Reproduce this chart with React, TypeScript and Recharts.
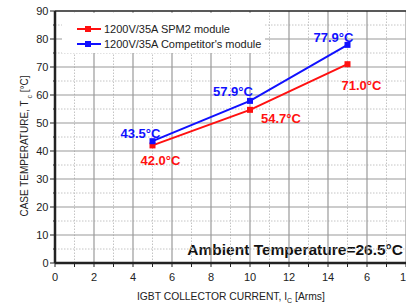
import React from 'react';
import { LineChart, Line, XAxis, YAxis, ReferenceLine, LabelList } from 'recharts';

const CURRENT_ARMS = [5, 10, 15];
const SPM2_TEMPS = [42.0, 54.7, 71.0];
const COMPETITOR_TEMPS = [43.5, 57.9, 77.9];

const X_TICKS = [0, 1, 2, 3, 4, 5, 6, 7, 8, 9, 10, 11, 12, 13, 14, 15, 16, 17, 18];
// labels as they appear in the picture (the "16" reads as "6")
const X_TICK_LABELS: Record<number, string> = {
  0: '0', 2: '2', 4: '4', 6: '6', 8: '8', 10: '10', 12: '12', 14: '14', 16: '6', 18: '18',
};
const Y_TICKS = [0, 5, 10, 15, 20, 25, 30, 35, 40, 45, 50, 55, 60, 65, 70, 75, 80, 85, 90];

const MAJOR_X = [2, 4, 6, 8, 10, 12, 14, 16, 18];
const MINOR_X = [1, 3, 5, 7, 9, 11, 13, 15, 17];
const MAJOR_Y = [10, 20, 30, 40, 50, 60, 70, 80];
const MINOR_Y = [5, 15, 25, 35, 45, 55, 65, 75, 85];

const SERIES_NAMES = ['1200V/35A SPM2 module', "1200V/35A Competitor's module"];

const data = CURRENT_ARMS.map((x, i) => ({
  x,
  spm2: SPM2_TEMPS[i],
  comp: COMPETITOR_TEMPS[i],
}));

const FONT = '"Liberation Sans", Arial, sans-serif';
const RED = '#ff1010';
const BLUE = '#1010ff';

// where each value label sits relative to its point (center of text)
const RED_LABEL_OFFSETS = [[8, 15], [31, 9], [14, 21]];
const BLUE_LABEL_OFFSETS = [[-12, -8], [-17, -9], [-14, -7]];

const squareDot = (color: string) => (props: any) => {
  const { cx, cy, index } = props;
  return <rect key={`d-${index}`} x={cx - 3} y={cy - 3} width={6} height={6} fill={color} />;
};

const valueLabel = (color: string, offsets: number[][]) => (props: any) => {
  const { x, y, value, index } = props;
  const [dx, dy] = offsets[index];
  return (
    <text
      x={x + dx}
      y={y + dy + 4.5}
      textAnchor="middle"
      fill={color}
      fontFamily={FONT}
      fontWeight="bold"
      fontSize={13}
    >
      {Number(value).toFixed(1)}°C
    </text>
  );
};

const XTick = (props: any) => {
  const { x, y, payload } = props;
  const label = X_TICK_LABELS[payload.value];
  return (
    <g>
      <line x1={x} y1={y} x2={x} y2={y + 4} stroke="#222" />
      {label !== undefined && (
        <text x={x} y={y + 18} textAnchor="middle" fill="#222" fontSize={11} fontFamily={FONT}>
          {label}
        </text>
      )}
    </g>
  );
};

const YTick = (props: any) => {
  const { x, y, payload } = props;
  const major = payload.value % 10 === 0;
  return (
    <g>
      <line x1={x - (major ? 5 : 2)} y1={y} x2={x} y2={y} stroke="#222" />
      {major && (
        <text x={x - 6.5} y={y + 4} textAnchor="end" fill="#222" fontSize={11} fontFamily={FONT}>
          {payload.value}
        </text>
      )}
    </g>
  );
};

const LegendBox = () => (
  <svg width={203} height={40} style={{ display: 'block' }}>
    {[RED, BLUE].map((c, i) => (
      <g key={c}>
        <line x1={15} x2={39} y1={16 + i * 15} y2={16 + i * 15} stroke={c} strokeWidth={2} />
        <rect x={23} y={13 + i * 15} width={6} height={6} fill={c} />
        <text x={42} y={20 + i * 15} fontSize={11} fontFamily={FONT} fill="#222">
          {SERIES_NAMES[i]}
        </text>
      </g>
    ))}
  </svg>
);

export default function App() {
  return (
    <div style={{ position: 'absolute', left: 0, top: 0, width: 406, height: 306, overflow: 'hidden', background: '#fff' }}>
      <LineChart
        width={420}
        height={306}
        data={data}
        margin={{ top: 11, right: 14, left: 0, bottom: 0 }}
        style={{ fontFamily: FONT }}
      >
        {MINOR_X.map((v) => (
          <ReferenceLine key={`mx${v}`} x={v} stroke="#c4c4c4" strokeDasharray="1.5 1.5" />
        ))}
        {MINOR_Y.map((v) => (
          <ReferenceLine key={`my${v}`} y={v} stroke="#c4c4c4" strokeDasharray="1.5 1.5" />
        ))}
        {MAJOR_X.map((v) => (
          <ReferenceLine key={`Mx${v}`} x={v} stroke="#9a9a9a" strokeWidth={1.2} />
        ))}
        {MAJOR_Y.map((v) => (
          <ReferenceLine key={`My${v}`} y={v} stroke="#9a9a9a" strokeWidth={1.2} />
        ))}
        <ReferenceLine y={90} stroke="#222" strokeWidth={1.5} />
        <XAxis
          dataKey="x"
          type="number"
          domain={[0, 18]}
          ticks={X_TICKS}
          interval={0}
          height={43}
          tickSize={0}
          tickMargin={0}
          tickLine={false}
          tick={<XTick />}
          axisLine={{ stroke: '#222', strokeWidth: 2.5 }}
          allowDataOverflow
          label={{
            content: () => (
              <text x={137} y={300} fill="#222" fontSize={10.3} fontFamily={FONT}>
                IGBT COLLECTOR CURRENT, I
                <tspan fontSize={7} dy={3}>C</tspan>
                <tspan dy={-3}>  [Arms]</tspan>
              </text>
            ),
          }}
        />
        <YAxis
          type="number"
          domain={[0, 90]}
          ticks={Y_TICKS}
          interval={0}
          width={55}
          tickSize={0}
          tickMargin={0}
          tickLine={false}
          tick={<YTick />}
          axisLine={{ stroke: '#222', strokeWidth: 2.5 }}
          allowDataOverflow
          label={{
            content: () => (
              <text
                x={0}
                y={0}
                transform="translate(27.5,146) rotate(-90)"
                textAnchor="middle"
                fill="#222"
                fontSize={10}
                fontFamily={FONT}
              >
                CASE TEMPERATURE, T
                <tspan fontSize={7} dy={4}>  c</tspan>
                <tspan dy={-4}>  [°C]</tspan>
              </text>
            ),
          }}
        />
        <Line
          dataKey="spm2"
          stroke={RED}
          strokeWidth={2}
          dot={squareDot(RED)}
          activeDot={false}
          isAnimationActive={false}
        >
          <LabelList dataKey="spm2" content={valueLabel(RED, RED_LABEL_OFFSETS)} />
        </Line>
        <Line
          dataKey="comp"
          stroke={BLUE}
          strokeWidth={2}
          dot={squareDot(BLUE)}
          activeDot={false}
          isAnimationActive={false}
        >
          <LabelList dataKey="comp" content={valueLabel(BLUE, BLUE_LABEL_OFFSETS)} />
        </Line>
        <text x={403} y={255} textAnchor="end" fontSize={15.5} fontWeight="bold" fontFamily={FONT} fill="#111">
          Ambient Temperature=26.5°C
        </text>
      </LineChart>
      <div style={{ position: 'absolute', left: 62, top: 13, width: 203, height: 40, background: '#fff' }}>
        <LegendBox />
      </div>
    </div>
  );
}
